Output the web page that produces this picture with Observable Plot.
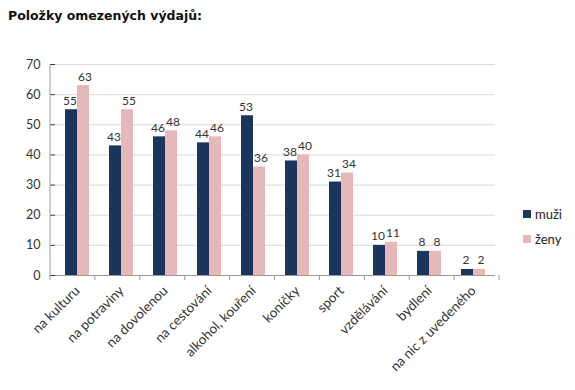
<!DOCTYPE html>
<html>
<head>
<meta charset="utf-8">
<script src="https://cdn.jsdelivr.net/npm/d3@7"></script>
<script src="https://cdn.jsdelivr.net/npm/@observablehq/plot@0.6"></script>
<style>
  body { margin: 0; background: #fff; width: 575px; height: 390px; position: relative; overflow: hidden; }
  #title { height: 30px; font-family: "DejaVu Sans", sans-serif; font-weight: bold; font-size: 12.5px; color: #111; padding-left: 8px; line-height: 32px; box-sizing: border-box; }
  #legend { position: absolute; left: 523px; top: 201px; font-family: Lato, sans-serif; font-size: 13px; color: #222; }
  #legend div { height: 25px; display: flex; align-items: center; }
  #legend span.sw { display: inline-block; width: 8px; height: 8px; margin-right: 4px; }
</style>
</head>
<body>
<div id="title"></div>
<div id="chart"></div>
<div id="legend"></div>
<script>
const titleText = "Položky omezených výdajů:";
const categories = ["na kulturu", "na potraviny", "na dovolenou", "na cestování", "alkohol, kouření", "koníčky", "sport", "vzdělávání", "bydlení", "na nic z uvedeného"];
const seriesNames = ["muži", "ženy"];
const muzi = [55, 43, 46, 44, 53, 38, 31, 10, 8, 2];
const zeny = [63, 55, 48, 46, 36, 40, 34, 11, 8, 2];
const colors = ["#1b365d", "#e6b9b8"];
const yTicks = [0, 10, 20, 30, 40, 50, 60, 70];

const data = [];
categories.forEach((c, i) => {
  data.push({cat: c, s: seriesNames[0], v: muzi[i]});
  data.push({cat: c, s: seriesNames[1], v: zeny[i]});
});
const dataM = data.filter(d => d.s === seriesNames[0]);
const dataZ = data.filter(d => d.s === seriesNames[1]);

document.getElementById("title").textContent = titleText;

const plot = Plot.plot({
  width: 575,
  height: 360,
  marginTop: 34,
  marginBottom: 115,
  marginLeft: 50,
  marginRight: 76,
  style: {fontFamily: "Lato, sans-serif", fontSize: "12.5px", color: "#333", background: "#fff"},
  fx: {domain: categories, padding: 0, label: null, axis: "bottom", tickRotate: -45, tickSize: 0, tickPadding: 13},
  x: {domain: seriesNames, paddingInner: 0, paddingOuter: 0.8, axis: null},
  y: {domain: [0, 70], ticks: yTicks, label: null, tickSize: 5, tickPadding: 10},
  color: {domain: seriesNames, range: colors},
  marks: [
    Plot.gridY(yTicks, {stroke: "#d9d9d9", strokeOpacity: 1}),
    Plot.barY(data, {fx: "cat", x: "s", y: "v", fill: "s"}),
    Plot.text(dataM, {fx: "cat", x: "s", y: "v", text: d => String(d.v), lineAnchor: "bottom", dy: -5, dx: -1.5, fill: "#333", fontSize: 12}),
    Plot.text(dataZ, {fx: "cat", x: "s", y: "v", text: d => String(d.v), lineAnchor: "bottom", dy: -5, dx: 1.5, fill: "#333", fontSize: 12}),
    Plot.ruleY([0], {stroke: "#9a9a9a"})
  ]
});
document.getElementById("chart").appendChild(plot);

const svg = d3.select(plot);
svg.selectAll("[aria-label='fx-axis tick label'] text").style("font-size", "13.5px");
const fxs = plot.scale("fx");
const ys = plot.scale("y");
const fxScale = d3.scaleBand().domain(fxs.domain).range(fxs.range).padding(0);
const y0 = ys.apply(0);
const y70 = ys.apply(70);
svg.append("line").attr("x1", fxs.range[0]).attr("x2", fxs.range[0]).attr("y1", y70).attr("y2", y0).attr("stroke", "#9a9a9a");
const bounds = categories.map(c => fxScale(c)).concat([fxScale(categories[categories.length - 1]) + fxScale.bandwidth()]);
bounds.forEach(bx => {
  svg.append("line").attr("x1", bx).attr("x2", bx).attr("y1", y0).attr("y2", y0 + 5).attr("stroke", "#9a9a9a");
});
svg.selectAll("[aria-label='y-axis tick']").attr("stroke", "#9a9a9a");

const leg = d3.select("#legend");
seriesNames.forEach((s, i) => {
  const row = leg.append("div");
  row.append("span").attr("class", "sw").style("background", colors[i]);
  row.append("span").text(s);
});
</script>
</body>
</html>
